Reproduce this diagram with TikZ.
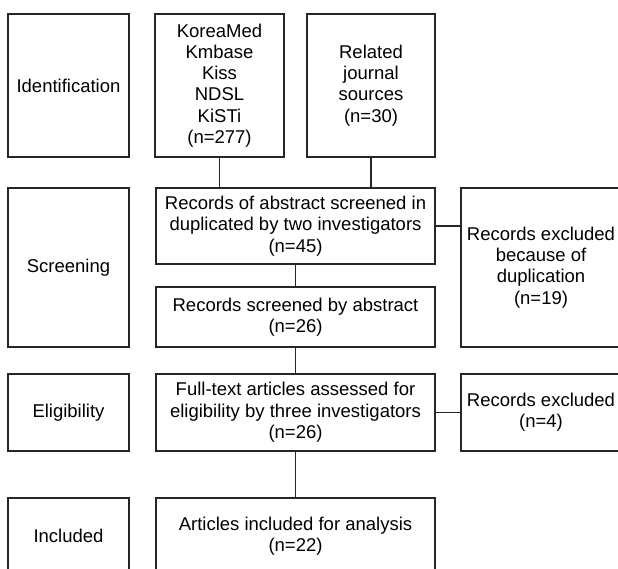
\documentclass[tikz,border=0pt]{standalone}
\usepackage{fontspec}
\setmainfont{Liberation Sans}
\begin{document}
\begin{tikzpicture}[x=1pt,y=-1pt,
  box/.style={draw=black!85,line width=1.1pt,fill=white,inner sep=0pt,align=center,
    font=\fontsize{18.5}{21.3}\selectfont},
  link/.style={draw=black!85,line width=1.1pt}]
\useasboundingbox[fill=white] (0,0) rectangle (618,568);
\clip (0,0) rectangle (618,568);
% stage labels
\node[box,minimum width=121pt,minimum height=143pt] (ident) at (68.5,85.5) {Identification};
\node[box,minimum width=121pt,minimum height=159pt] (screen) at (68.5,267.5) {Screening};
\node[box,minimum width=121pt,minimum height=77pt] (elig) at (68.5,412.5) {Eligibility};
\node[box,minimum width=121pt,minimum height=76pt] (incl) at (68.5,536) {Included};
% sources
\node[box,minimum width=129pt,minimum height=143pt] (korea) at (219.5,85.5) {KoreaMed\\Kmbase\\Kiss\\NDSL\\KiSTi\\(n=277)};
\node[box,minimum width=128pt,minimum height=143pt] (related) at (371,85.5) {Related\\journal\\sources\\(n=30)};
% main flow
\node[box,minimum width=279pt,minimum height=76pt] (abs) at (295.5,226) {Records of abstract screened in\\duplicated by two investigators\\(n=45)};
\node[box,minimum width=279pt,minimum height=60pt] (scr) at (295.5,317) {Records screened by abstract\\(n=26)};
\node[box,minimum width=279pt,minimum height=77pt] (full) at (295.5,412.5) {Full-text articles assessed for\\eligibility by three investigators\\(n=26)};
\node[box,minimum width=279pt,minimum height=76pt] (art) at (295.5,536) {Articles included for analysis\\(n=22)};
% exclusions
\node[box,minimum width=160pt,minimum height=159pt] (excl1) at (541,267.5) {Records excluded\\because of\\duplication\\(n=19)};
\node[box,minimum width=160pt,minimum height=77pt] (excl2) at (541,412.5) {Records excluded\\(n=4)};
% connectors
\draw[link] (korea.south) -- (korea.south |- abs.north);
\draw[link] (related.south) -- (related.south |- abs.north);
\draw[link] (abs.south) -- (scr.north);
\draw[link] (abs.east) -- (abs.east -| excl1.west);
\draw[link] (scr.south) -- (full.north);
\draw[link] (full.east) -- (excl2.west);
\draw[link] (full.south) -- (art.north);
\end{tikzpicture}
\end{document}
